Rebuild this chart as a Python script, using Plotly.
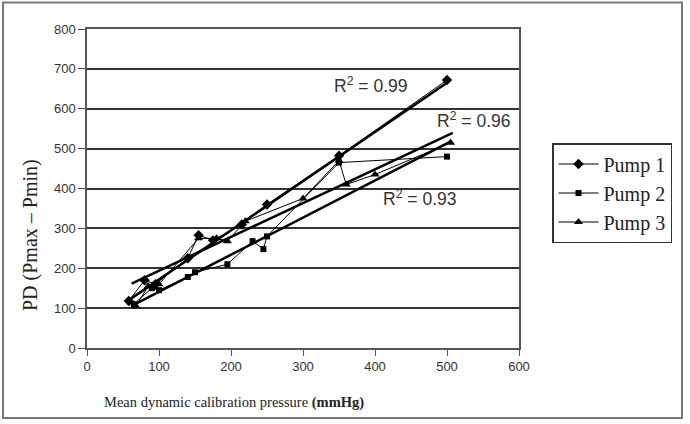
import plotly.graph_objects as go

# Data
pump1_x = [58, 80, 95, 140, 155, 175, 215, 250, 350, 500]
pump1_y = [118, 170, 160, 225, 283, 270, 310, 360, 482, 672]
pump2_x = [65, 90, 100, 140, 150, 195, 230, 245, 250, 350, 500]
pump2_y = [110, 150, 145, 178, 190, 210, 268, 248, 280, 465, 480]
pump3_x = [68, 85, 100, 155, 180, 195, 220, 300, 350, 360, 400, 505]
pump3_y = [105, 155, 160, 275, 275, 268, 318, 375, 470, 410, 435, 515]

# Linear trend lines (slope, intercept, x-extent)
trend_slope = [1.233, 0.93, 0.848]
trend_intercept = [48.5, 48.0, 109.0]
trend_x_start = [58, 62, 62]
trend_x_end = [500, 504, 508]
r2_labels = ["R<sup>2</sup> = 0.99", "R<sup>2</sup> = 0.93", "R<sup>2</sup> = 0.96"]

x_ticks = [0, 100, 200, 300, 400, 500, 600]
y_ticks = [0, 100, 200, 300, 400, 500, 600, 700, 800]

series = [
    ("Pump 1", pump1_x, pump1_y, "diamond", 8),
    ("Pump 2", pump2_x, pump2_y, "square", 6),
    ("Pump 3", pump3_x, pump3_y, "triangle-up", 8),
]

fig = go.Figure()
for name, xs, ys, sym, sz in series:
    fig.add_trace(go.Scatter(
        x=xs, y=ys, name=name, mode="lines+markers",
        line=dict(color="black", width=1),
        marker=dict(symbol=sym, size=sz, color="black"),
    ))

for s, b, x0, x1 in zip(trend_slope, trend_intercept, trend_x_start, trend_x_end):
    fig.add_trace(go.Scatter(
        x=[x0, x1], y=[s * x0 + b, s * x1 + b], mode="lines",
        showlegend=False, hoverinfo="skip",
        line=dict(color="black", width=2.5),
    ))

# Pixel -> paper coordinate helpers
def px(xp):
    return (xp - 87) / 432

def py(yp):
    return (348 - yp) / 319

ann_font = dict(family="Liberation Sans, Arial", size=17.5, color="#333")
label_pos = [(370, 85), (419, 198), (473, 120)]
for txt, (lx, ly) in zip(r2_labels, label_pos):
    fig.add_annotation(x=px(lx), y=py(ly), xref="paper", yref="paper",
                       xanchor="center", yanchor="middle",
                       text=txt, showarrow=False, font=ann_font)

# Axis titles as annotations (positioned like the reference)
fig.add_annotation(x=px(234), y=py(402), xref="paper", yref="paper",
                   xanchor="center", yanchor="middle",
                   text="Mean dynamic calibration pressure <b>(mmHg)</b>", showarrow=False,
                   font=dict(family="Liberation Serif, serif", size=14.5, color="#222"))
fig.add_annotation(x=px(30), y=py(235), xref="paper", yref="paper",
                   xanchor="center", yanchor="middle",
                   text="PD (Pmax – Pmin)", showarrow=False, textangle=-90,
                   font=dict(family="Liberation Serif, serif", size=20, color="#222"))

# Outer frame
fig.add_shape(type="rect", xref="paper", yref="paper",
              x0=px(3), x1=px(682), y0=py(418), y1=py(2.5),
              line=dict(color="#777", width=2))

tick_font = dict(family="Liberation Sans, Arial", size=13, color="#333")
fig.update_layout(
    width=690, height=424,
    margin=dict(l=87, r=171, t=29, b=76),
    paper_bgcolor="white", plot_bgcolor="white",
    showlegend=True,
    legend=dict(x=px(552), y=py(143), xanchor="left", yanchor="top",
                bordercolor="#333", borderwidth=1.5,
                font=dict(family="Liberation Serif, serif", size=20, color="#222"),
                itemwidth=40, tracegroupgap=0),
    xaxis=dict(range=[0, 600], tickvals=x_ticks, showgrid=False, zeroline=False,
               showline=True, linecolor="#555", linewidth=1.5, mirror=True,
               ticks="outside", ticklen=6, tickcolor="#555", tickfont=tick_font),
    yaxis=dict(range=[0, 800], tickvals=y_ticks, showgrid=True, gridcolor="#333", gridwidth=1.5,
               zeroline=False, showline=True, linecolor="#555", linewidth=1.5, mirror=True,
               ticks="outside", ticklen=7, tickcolor="#555", tickfont=tick_font),
)

fig.write_html("out.html")
